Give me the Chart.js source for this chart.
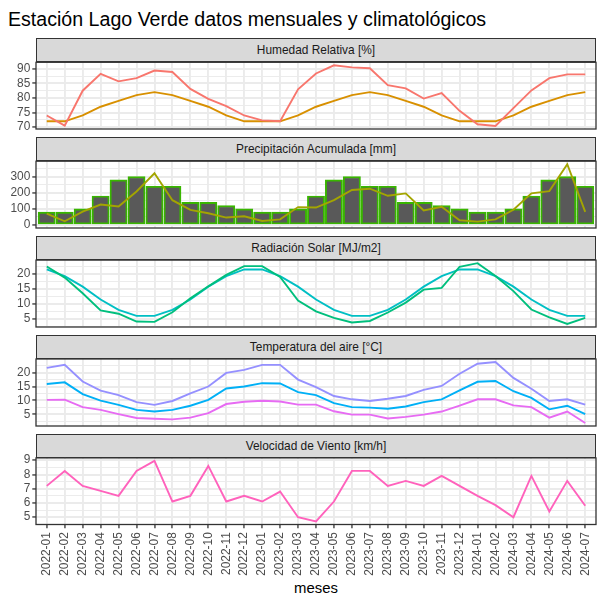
<!DOCTYPE html>
<html><head><meta charset="utf-8">
<script src="https://cdn.jsdelivr.net/npm/chart.js@4.4.0/dist/chart.umd.min.js"></script>
<style>
body{margin:0;background:#fff;width:597px;height:597px;position:relative;overflow:hidden;font-family:'Liberation Sans',Arial,sans-serif}
#title{position:absolute;left:8px;top:8px;font-size:19.6px;line-height:23px;color:#000;white-space:nowrap}
.strip{position:absolute;left:36px;width:560px;height:24px;box-sizing:border-box;border:1px solid #333;background:#D9D9D9;color:#1A1A1A;font-size:11.9px;text-align:center;line-height:22px;white-space:nowrap}
#xtitle{position:absolute;left:36px;width:560px;top:580px;text-align:center;font-size:14.9px;line-height:17px;color:#000}
canvas{position:absolute;left:0}
</style></head><body>
<div id="title">Estación Lago Verde datos mensuales y climatológicos</div>
<div id="xtitle">meses</div>
<script>
const months = ["2022-01","2022-02","2022-03","2022-04","2022-05","2022-06","2022-07","2022-08","2022-09","2022-10","2022-11","2022-12",
"2023-01","2023-02","2023-03","2023-04","2023-05","2023-06","2023-07","2023-08","2023-09","2023-10","2023-11","2023-12",
"2024-01","2024-02","2024-03","2024-04","2024-05","2024-06","2024-07"];

const humedad     = [74.0,70.5,82.5,88.3,85.7,86.8,89.4,88.9,83.1,79.7,77.2,74.0,72.3,72.0,83.0,88.4,91.2,90.5,90.2,84.4,83.3,79.8,81.7,75.6,71.0,70.4,76.5,82.6,86.8,88.1,88.1];
const humedadClim = [72,72,74,77,79,81,82,81,79,77,74,72,72,72,74,77,79,81,82,81,79,77,74,72,72,72,74,77,79,81,82];

const precipClim  = [80,80,100,180,280,300,240,240,140,140,120,100,80,80,100,180,280,300,240,240,140,140,120,100,80,80,100,180,280,300,240];
const precip      = [71,23,83,127,115,208,321,154,94,73,46,54,25,35,111,108,154,217,225,181,196,90,113,29,21,35,94,196,210,377,81];

const radiacion     = [22.4,18.7,13.5,7.8,6.7,4.1,4.0,7.2,11.8,15.8,19.6,22.5,22.5,18.9,11.1,7.5,5.3,3.8,4.3,7.1,10.4,14.7,15.3,22.3,23.5,19.2,14.2,8.1,5.5,3.3,5.3];
const radiacionClim = [21.4,19.2,15.7,11.4,8.0,6.0,6.0,8.0,11.4,15.7,19.2,21.4,21.4,19.2,15.7,11.4,8.0,6.0,6.0,8.0,11.4,15.7,19.2,21.4,21.4,19.2,15.7,11.4,8.0,6.0,6.0];

const tmax = [21.7,22.8,16.8,13.5,11.9,9.4,8.4,9.8,12.5,15.0,19.9,21.0,22.8,22.8,17.5,14.8,11.6,10.4,9.8,10.6,11.6,13.8,15.2,19.6,23.2,23.8,18.1,14.2,9.8,10.4,8.5];
const tmed = [15.9,16.5,12.3,9.9,8.4,6.6,6.0,6.6,8.1,10.2,14.3,15.0,16.2,16.1,13.0,11.9,9.0,7.6,7.4,7.0,7.8,9.4,10.4,13.6,16.7,17.0,13.3,10.9,6.8,8.1,5.1];
const tmin = [10.2,10.3,7.6,6.6,5.1,3.7,3.4,3.2,3.8,5.4,8.7,9.5,9.9,9.6,8.5,8.5,6.1,4.9,4.9,3.5,4.1,4.9,6.0,8.1,10.4,10.4,8.2,7.6,3.8,6.0,1.9];

const viento = [7.2,8.25,7.2,6.85,6.5,8.25,8.95,6.1,6.5,8.6,6.1,6.5,6.1,6.8,5.0,4.7,6.1,8.25,8.25,7.2,7.55,7.2,7.9,7.2,6.5,5.85,5.0,7.9,5.4,7.55,5.8];

const panelTitles = ["Humedad Relativa [%]","Precipitación Acumulada [mm]","Radiación Solar [MJ/m2]","Temperatura del aire [°C]","Velocidad de Viento [km/h]"];
const humTicks = [70,75,80,85,90];
const precipTicks = [0,100,200,300];
const radTicks = [5,10,15,20];
const tempTicks = [5,10,15,20];
const vientoTicks = [5,6,7,8,9];

Chart.defaults.font.family = "'Liberation Sans', Arial, sans-serif";
Chart.defaults.font.size = 11.9;
Chart.defaults.color = '#4D4D4D';

const toXY = arr => arr.map((v,i)=>({x:i+1,y:v}));
const line = (arr,color,order) => ({type:'line',data:toXY(arr),borderColor:color,borderWidth:1.9,pointRadius:0,tension:0,fill:false,order:order||0});

const panels = [
  {ticks:humTicks, datasets:[line(humedadClim,'#D89000',1), line(humedad,'#F8766D',0)], range:[humedad,humedadClim]},
  {ticks:precipTicks, datasets:[
      {type:'bar',data:toXY(precipClim),backgroundColor:'#595959',borderColor:'#39B600',borderWidth:1.9,borderSkipped:false,barThickness:17.2,order:2},
      line(precip,'#A3A500',0)], range:[precipClim,precip,[0]]},
  {ticks:radTicks, datasets:[line(radiacionClim,'#00BFC4',1), line(radiacion,'#00BF7D',0)], range:[radiacion,radiacionClim]},
  {ticks:tempTicks, datasets:[line(tmax,'#9590FF',0), line(tmed,'#00B0F6',0), line(tmin,'#E76BF3',0)], range:[tmax,tmed,tmin]},
  {ticks:vientoTicks, datasets:[line(viento,'#FF62BC',0)], range:[viento]}
];

const borderPlugin = {id:'panelBorder', afterDraw(chart){
  const a = chart.chartArea, c = chart.ctx;
  c.save(); c.strokeStyle = '#333333'; c.lineWidth = 1.3;
  c.strokeRect(a.left, a.top, a.right-a.left, a.bottom-a.top); c.restore();
}};

const P0 = 38.3, PITCH = 98.9, STRIP_H = 24, PLOT_H = 66.6, XAXIS_H = 70;

panels.forEach((p,k)=>{
  const isBottom = k === panels.length-1;
  const stripTop = P0 + k*PITCH;
  const plotTop = stripTop + STRIP_H;
  const s = document.createElement('div');
  s.className = 'strip'; s.style.top = stripTop + 'px'; s.textContent = panelTitles[k];
  document.body.appendChild(s);

  const canvasTop = Math.floor(plotTop) - 10;
  const padTop = plotTop - canvasTop;
  const padBottom = isBottom ? 0 : 10;
  const h = Math.ceil(padTop + PLOT_H + (isBottom ? XAXIS_H : 0) + padBottom);
  const cv = document.createElement('canvas');
  cv.width = 597; cv.height = h; cv.style.top = canvasTop + 'px';
  cv.style.width = '597px'; cv.style.height = h + 'px';
  document.body.appendChild(cv);

  const all = [].concat(...p.range);
  const dmin = Math.min(...all), dmax = Math.max(...all);
  const ex = (dmax - dmin) * 0.05;
  const minorStep = (p.ticks[1]-p.ticks[0]) / 2;
  const isMajor = v => p.ticks.some(t => Math.abs(t - v) < 1e-6);

  new Chart(cv, {
    type:'line',
    data:{datasets:p.datasets},
    plugins:[borderPlugin],
    options:{
      responsive:false, animation:false, events:[],
      layout:{padding:{top:padTop, bottom:padBottom + (isBottom ? (h - padTop - PLOT_H - XAXIS_H) : 0), left:0, right:1}},
      plugins:{legend:{display:false}, tooltip:{enabled:false}},
      scales:{
        x:{type:'linear', min:0.4, max:31.6, offset:false,
          border:{display:false},
          grid:{offset:false, color:'#EBEBEB', lineWidth:1.9, drawTicks:isBottom, tickLength:3.7, tickColor:'#333333', tickWidth:1.3},
          ticks:{display:isBottom, stepSize:1, autoSkip:false, includeBounds:false, maxRotation:90, minRotation:90, padding:4, color:'#4D4D4D',
            callback:v => months[v-1] || ''},
          afterFit:sc => { sc.height = isBottom ? XAXIS_H : 0; sc.paddingLeft = 0; sc.paddingRight = 0; }
        },
        y:{type:'linear', min:dmin-ex, max:dmax+ex,
          border:{display:false},
          grid:{color:'#EBEBEB', lineWidth:ctx => isMajor(ctx.tick.value) ? 1.9 : 0.95, tickLength:3.7,
            tickColor:ctx => isMajor(ctx.tick.value) ? '#333333' : 'rgba(0,0,0,0)', tickWidth:1.3},
          ticks:{stepSize:minorStep, autoSkip:false, includeBounds:false, padding:2, color:'#4D4D4D',
            callback:v => isMajor(v) ? String(Math.round(v)) : ''},
          afterFit:sc => { sc.width = 36; sc.paddingTop = 0; sc.paddingBottom = 0; }
        }
      }
    }
  });
});
</script>
</body></html>
